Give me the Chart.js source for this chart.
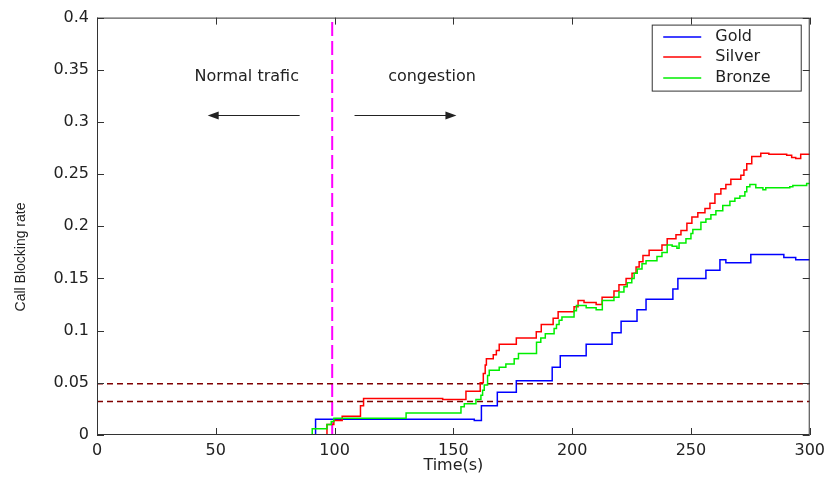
<!DOCTYPE html>
<html>
<head>
<meta charset="utf-8">
<script src="https://cdn.jsdelivr.net/npm/chart.js@4/dist/chart.umd.min.js"></script>
<style>
  html, body { margin: 0; padding: 0; background: #fff; }
  #wrap { width: 831px; height: 477px; }
</style>
</head>
<body>
<div id="wrap"><canvas id="chart" width="831" height="477"></canvas></div>
<script>
// Step series: each x is where the new level starts.
const goldX = [0, 92, 158.8, 161.8, 168.5, 176.5, 191.6, 195, 205.9, 216.8, 220.6, 227.3, 231.1, 242.4, 244.5, 256.3, 262.2, 264.7, 275.2, 289.1, 294.1, 300];
const goldY = [0, 0.015, 0.014, 0.028, 0.041, 0.052, 0.065, 0.076, 0.087, 0.098, 0.109, 0.12, 0.13, 0.14, 0.15, 0.158, 0.168, 0.165, 0.173, 0.17, 0.168, 0.168];

const silverX = [0, 96.8, 99.7, 103.2, 110.9, 112.2, 145.5, 155.3, 161.3, 162.6, 163.4, 163.9, 166.8, 168.1, 169.3, 176.5, 184.9, 187.0, 192.0, 194.1, 200.8, 202.5, 205.0, 210.1, 212.6, 217.6, 219.7, 222.7, 225.2, 226.9, 228.2, 229.8, 232.4, 237.8, 240.0, 243.7, 245.8, 248.3, 250.4, 252.9, 255.9, 258.0, 260.1, 262.6, 264.7, 266.8, 271.0, 272.3, 273.5, 275.6, 279.4, 282.8, 290.3, 292.4, 294.1, 296.2, 300];
const silverY = [0, 0.010, 0.014, 0.018, 0.028, 0.035, 0.034, 0.042, 0.050, 0.059, 0.067, 0.073, 0.077, 0.081, 0.087, 0.093, 0.099, 0.106, 0.112, 0.118, 0.123, 0.129, 0.127, 0.125, 0.132, 0.138, 0.144, 0.150, 0.155, 0.161, 0.166, 0.172, 0.177, 0.182, 0.188, 0.192, 0.196, 0.203, 0.209, 0.213, 0.217, 0.222, 0.231, 0.236, 0.240, 0.245, 0.249, 0.254, 0.260, 0.267, 0.270, 0.269, 0.268, 0.266, 0.265, 0.269, 0.269];

const bronzeX = [0, 90.6, 96.8, 98.6, 99.7, 130.1, 153.2, 154.6, 159.5, 161.6, 162.3, 163.0, 164.4, 165.1, 169.3, 172.1, 175.6, 177.4, 185.0, 186.8, 188.7, 192.4, 193.4, 194.5, 195.7, 200.8, 201.8, 205.9, 210.1, 212.7, 217.6, 219.7, 221.8, 223.2, 225.1, 226.1, 227.4, 229.4, 231.1, 235.7, 237.8, 240.0, 242.1, 244.1, 245.0, 247.9, 250.0, 250.8, 254.2, 256.3, 258.4, 260.5, 263.4, 266.4, 268.5, 270.6, 272.7, 273.5, 274.8, 277.3, 280.3, 281.5, 291.6, 292.9, 298.7, 300];
const bronzeY = [0, 0.006, 0.010, 0.013, 0.016, 0.021, 0.027, 0.030, 0.034, 0.038, 0.043, 0.048, 0.057, 0.062, 0.065, 0.068, 0.073, 0.078, 0.089, 0.093, 0.097, 0.102, 0.106, 0.110, 0.113, 0.119, 0.124, 0.122, 0.120, 0.129, 0.132, 0.137, 0.142, 0.146, 0.150, 0.155, 0.159, 0.164, 0.167, 0.171, 0.175, 0.182, 0.181, 0.179, 0.184, 0.188, 0.193, 0.197, 0.204, 0.207, 0.211, 0.215, 0.220, 0.224, 0.227, 0.229, 0.233, 0.238, 0.240, 0.237, 0.235, 0.237, 0.238, 0.239, 0.241, 0.241];

const seriesNames = ["Gold", "Silver", "Bronze"];
const seriesColors = ["#0000ff", "#ff0000", "#00ee00"];
const thresholds = [0.049, 0.032];
const congestionStart = 99;
const xRange = [0, 300];
const yRange = [0, 0.4];
const xStep = 50;
const yStep = 0.05;

const TEXT = "#222";
const FONT = '"DejaVu Sans", sans-serif';

function pts(xs, ys) {
    return xs.map((x, i) => ({ x, y: ys[i] }));
}

// MATLAB-like axes box with inward ticks on all four sides
const axesBox = {
    id: "axesBox",
    afterDatasetsDraw(chart) {
        const { ctx, chartArea: a, scales } = chart;
        const tl = 7;
        ctx.save();
        ctx.strokeStyle = "#333";
        ctx.lineWidth = 1;
        ctx.strokeRect(a.left + 0.5, a.top + 0.5, a.right - a.left - 1, a.bottom - a.top - 1);
        ctx.beginPath();
        scales.x.ticks.forEach((t) => {
            const px = Math.round(scales.x.getPixelForValue(t.value)) + 0.5;
            ctx.moveTo(px, a.bottom);
            ctx.lineTo(px, a.bottom - tl);
            ctx.moveTo(px, a.top);
            ctx.lineTo(px, a.top + tl);
        });
        scales.y.ticks.forEach((t) => {
            const py = Math.round(scales.y.getPixelForValue(t.value)) + 0.5;
            ctx.moveTo(a.left, py);
            ctx.lineTo(a.left + tl, py);
            ctx.moveTo(a.right, py);
            ctx.lineTo(a.right - tl, py);
        });
        ctx.stroke();
        ctx.restore();
    },
};

function arrow(ctx, x0, x1, y) {
    const dir = Math.sign(x1 - x0);
    ctx.beginPath();
    ctx.moveTo(x0, y);
    ctx.lineTo(x1 - dir * 8, y);
    ctx.stroke();
    ctx.beginPath();
    ctx.moveTo(x1, y);
    ctx.lineTo(x1 - dir * 11, y - 4);
    ctx.lineTo(x1 - dir * 11, y + 4);
    ctx.closePath();
    ctx.fill();
}

// Text notes and arrows, plus the y title and the boxed legend
const notes = {
    id: "notes",
    afterDraw(chart) {
        const { ctx, chartArea: a, scales: { x, y } } = chart;
        ctx.save();
        ctx.fillStyle = TEXT;
        ctx.strokeStyle = TEXT;
        ctx.lineWidth = 1;
        ctx.font = "16px " + FONT;
        ctx.textAlign = "center";
        ctx.textBaseline = "alphabetic";
        ctx.fillText("Normal trafic", x.getPixelForValue(63), y.getPixelForValue(0.339));
        ctx.fillText("congestion", x.getPixelForValue(141), y.getPixelForValue(0.339));
        const ay = Math.round(y.getPixelForValue(0.307)) + 0.5;
        arrow(ctx, x.getPixelForValue(85.3), x.getPixelForValue(46.6), ay);
        arrow(ctx, x.getPixelForValue(108.4), x.getPixelForValue(151.3), ay);

        // y axis title
        ctx.save();
        ctx.translate(21, 257);
        ctx.rotate(-Math.PI / 2);
        ctx.font = '14px "Liberation Sans", Arial, sans-serif';
        ctx.textBaseline = "middle";
        ctx.fillText("Call Blocking rate", 0, 0);
        ctx.restore();

        // legend box
        const bw = 149, bh = 66;
        const bx = a.right - 9 - bw + 0.5, by = a.top + 7 + 0.5;
        ctx.fillStyle = "#fff";
        ctx.fillRect(bx, by, bw, bh);
        ctx.strokeStyle = "#333";
        ctx.strokeRect(bx, by, bw, bh);
        ctx.font = "16px " + FONT;
        ctx.textAlign = "left";
        ctx.textBaseline = "middle";
        const rows = [12, 32, 53];
        seriesNames.forEach((name, i) => {
            const ry = Math.round(by + rows[i]);
            ctx.strokeStyle = seriesColors[i];
            ctx.lineWidth = 1.5;
            ctx.beginPath();
            ctx.moveTo(bx + 11, ry);
            ctx.lineTo(bx + 49, ry);
            ctx.stroke();
            ctx.fillStyle = TEXT;
            ctx.fillText(name, bx + 63, ry);
        });
        ctx.restore();
    },
};

const stepLine = (label, xs, ys, color, order) => ({
    label,
    data: pts(xs, ys),
    borderColor: color,
    borderWidth: 1.5,
    stepped: true,
    pointRadius: 0,
    fill: false,
    order,
});

const datasets = [
    stepLine(seriesNames[0], goldX, goldY, seriesColors[0], 2),
    stepLine(seriesNames[1], silverX, silverY, seriesColors[1], 1),
    stepLine(seriesNames[2], bronzeX, bronzeY, seriesColors[2], 0),
    ...thresholds.map((t) => ({
        label: "threshold",
        data: pts(xRange, [t, t]),
        borderColor: "#800000",
        borderWidth: 1.5,
        borderDash: [6, 4],
        pointRadius: 0,
        order: 4,
    })),
    {
        label: "start",
        data: pts([congestionStart, congestionStart], yRange),
        borderColor: "#ff00ff",
        borderWidth: 2,
        borderDash: [14, 5],
        pointRadius: 0,
        order: 5,
    },
];

new Chart(document.getElementById("chart"), {
    type: "line",
    data: { datasets },
    plugins: [axesBox, notes],
    options: {
        responsive: false,
        animation: false,
        layout: { padding: { left: 0, top: 15, right: 20, bottom: 0 } },
        plugins: {
            legend: { display: false },
            tooltip: { enabled: false },
        },
        scales: {
            x: {
                type: "linear",
                min: xRange[0],
                max: xRange[1],
                grid: { display: false, drawTicks: false },
                border: { display: false },
                ticks: {
                    stepSize: xStep,
                    color: TEXT,
                    padding: 6,
                    maxRotation: 0,
                    font: { family: FONT, size: 16 },
                },
                title: {
                    display: true,
                    text: "Time(s)",
                    color: TEXT,
                    padding: { top: 0, bottom: 2 },
                    font: { family: FONT, size: 16 },
                },
                afterFit(scale) {
                    scale.height = 42;
                },
            },
            y: {
                min: yRange[0],
                max: yRange[1],
                grid: { display: false, drawTicks: false },
                border: { display: false },
                ticks: {
                    stepSize: yStep,
                    color: TEXT,
                    padding: 8,
                    font: { family: FONT, size: 16 },
                    callback: (v) => String(+v.toFixed(2)),
                },
                afterFit(scale) {
                    scale.width = 97;
                },
            },
        },
    },
});
</script>
</body>
</html>
